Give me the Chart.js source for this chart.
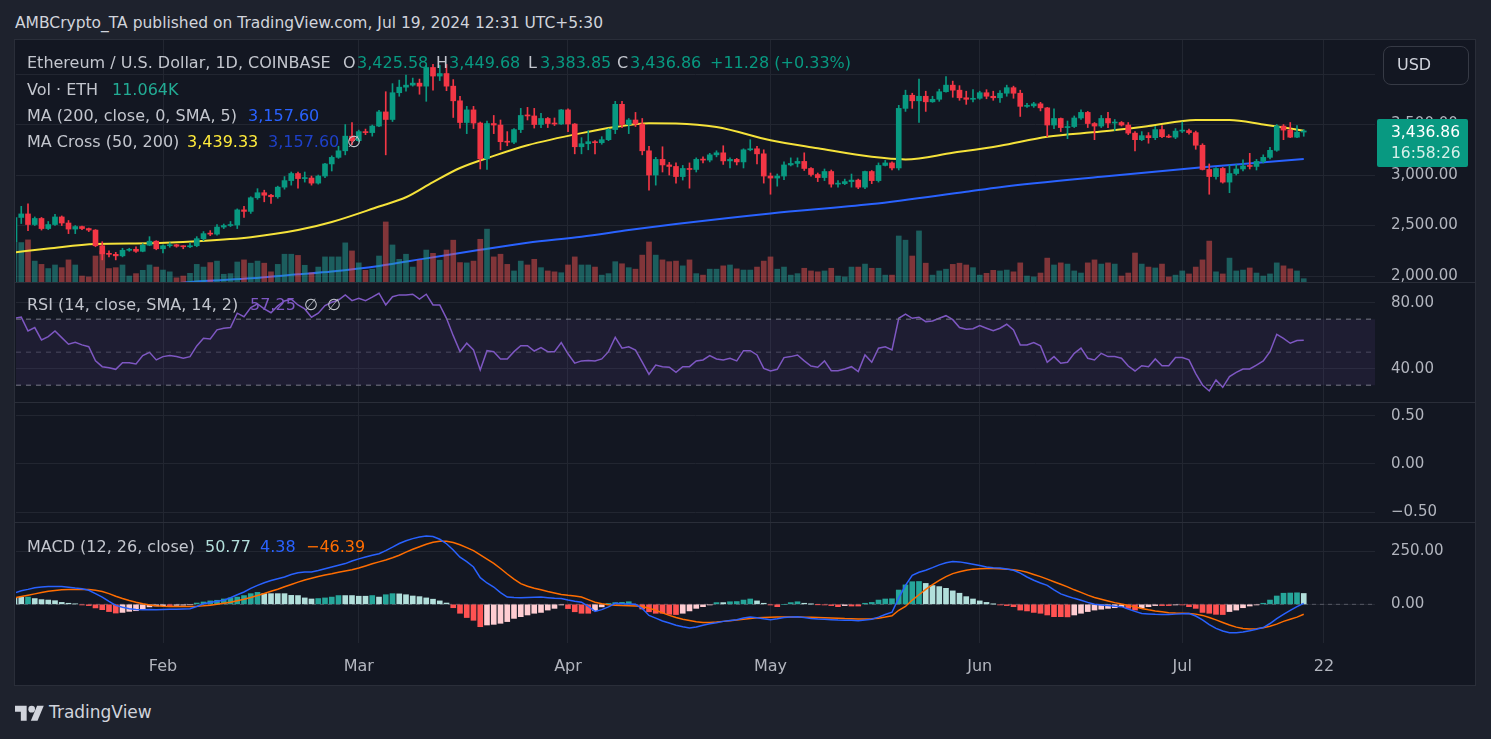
<!DOCTYPE html>
<html>
<head>
<meta charset="UTF-8">
<script src="https://cdn.jsdelivr.net/npm/chart.js@4.4.1/dist/chart.umd.min.js"></script>
<style>
  body { margin: 0; background: #1e222d; font-family: "DejaVu Sans", sans-serif; }
  #page { position: relative; width: 1491px; height: 739px; overflow: hidden; }
  #frame { position: absolute; left: 14px; top: 39px; width: 1460px; height: 645px; border: 1px solid #2a2e39; background: #131722; }
  canvas { position: absolute; left: 16px; }
  .sep { position: absolute; left: 15px; width: 1460px; height: 1px; background: #2a2e39; }
  .t { position: absolute; white-space: pre; font-size: 16px; line-height: 20px; color: #c3c6ce; }
  .g { color: #089981; }
</style>
</head>
<body>
<div id="page">
  <div class="t" style="left:15px;top:13px;font-size:15.5px;color:#d1d4dc">AMBCrypto_TA published on TradingView.com, Jul 19, 2024 12:31 UTC+5:30</div>
  <div id="frame"></div>

  <canvas id="price" width="1459" height="242" style="top:40px"></canvas>
  <div class="sep" style="top:282px"></div>
  <canvas id="rsi" width="1459" height="119" style="top:283px"></canvas>
  <div class="sep" style="top:402px"></div>
  <canvas id="blank" width="1459" height="119" style="top:403px"></canvas>
  <div class="sep" style="top:522px"></div>
  <canvas id="macd" width="1459" height="162" style="top:523px"></canvas>

  <!-- legends -->
  <div class="t" style="left:27px;top:53px">Ethereum / U.S. Dollar, 1D, COINBASE</div>
  <div class="t" style="left:343px;top:53px">O</div>
  <div class="t g" style="left:357px;top:53px">3,425.58</div>
  <div class="t" style="left:436px;top:53px">H</div>
  <div class="t g" style="left:449px;top:53px">3,449.68</div>
  <div class="t" style="left:528px;top:53px">L</div>
  <div class="t g" style="left:540px;top:53px">3,383.85</div>
  <div class="t" style="left:617px;top:53px">C</div>
  <div class="t g" style="left:630px;top:53px">3,436.86</div>
  <div class="t g" style="left:710px;top:53px">+11.28 (+0.33%)</div>

  <div class="t" style="left:27px;top:80px">Vol · ETH</div>
  <div class="t" style="left:112px;top:80px;color:#22ab94">11.064K</div>

  <div class="t" style="left:27px;top:106px">MA (200, close, 0, SMA, 5)</div>
  <div class="t" style="left:248px;top:106px;color:#2962ff">3,157.60</div>

  <div class="t" style="left:27px;top:132px">MA Cross (50, 200)</div>
  <div class="t" style="left:187px;top:132px;color:#ffeb3b">3,439.33</div>
  <div class="t" style="left:268px;top:132px;color:#1e40c8">3,157.60</div>
  <div class="t" style="left:347px;top:132px">∅</div>

  <div class="t" style="left:27px;top:295px">RSI (14, close, SMA, 14, 2)</div>
  <div class="t" style="left:250px;top:295px;color:#7e57c2">57.25</div>
  <div class="t" style="left:304px;top:295px">∅</div>
  <div class="t" style="left:327px;top:295px">∅</div>

  <div class="t" style="left:27px;top:537px">MACD (12, 26, close)</div>
  <div class="t" style="left:205px;top:537px;color:#b2dfdb">50.77</div>
  <div class="t" style="left:260px;top:537px;color:#2962ff">4.38</div>
  <div class="t" style="left:306px;top:537px;color:#ff6d00">−46.39</div>

  <!-- currency button and last price -->
  <div style="position:absolute;left:1383px;top:46px;width:84px;height:37px;border:1px solid #363a45;border-radius:8px;background:#131722"></div>
  <div class="t" style="left:1397px;top:55px;color:#d1d4dc">USD</div>
  <div style="position:absolute;left:1377px;top:119px;width:91px;height:48px;background:#089981;border-radius:2px"></div>
  <div class="t" style="left:1391px;top:122px;font-size:15.5px;color:#ffffff">3,436.86</div>
  <div class="t" style="left:1391px;top:143px;font-size:15.5px;color:#d5efe9">16:58:26</div>

  <!-- footer -->
  <svg style="position:absolute;left:15px;top:704px" width="30" height="17" viewBox="0 0 36 20">
    <path d="M14 20H7V9H0V2h14v18z" fill="#d1d4dc"/>
    <circle cx="20" cy="6" r="4" fill="#d1d4dc"/>
    <path d="M27 20h-8l7.5-18h8L27 20z" fill="#d1d4dc"/>
  </svg>
  <div class="t" style="left:49px;top:702px;font-size:17px;color:#d1d4dc">TradingView</div>
</div>

<script>
// daily candles, Jan 10 2024 (index 0) .. Jul 19 2024 (index 191)
const opens = [
  2340, 2580, 2615, 2510, 2570, 2470, 2510, 2585, 2525, 2465,
  2490, 2470, 2455, 2300, 2220, 2215, 2200, 2255, 2265, 2245,
  2305, 2345, 2270, 2300, 2310, 2295, 2290, 2300, 2370, 2420,
  2415, 2485, 2500, 2505, 2655, 2640, 2775, 2825, 2800, 2785,
  2880, 2945, 3015, 2965, 2970, 2920, 2990, 3110, 3175, 3240,
  3385, 3340, 3430, 3420, 3485, 3625, 3550, 3815, 3870, 3890,
  3910, 3880, 4065, 3980, 4005, 3880, 3735, 3520, 3645, 3515,
  3160, 3510, 3495, 3330, 3325, 3450, 3590, 3585, 3500, 3560,
  3510, 3505, 3645, 3505, 3280, 3310, 3330, 3320, 3350, 3450,
  3700, 3500, 3545, 3505, 3240, 3000, 3155, 3100, 3085, 2985,
  3065, 3055, 3155, 3148, 3200, 3220, 3140, 3155, 3130, 3250,
  3260, 3210, 2990, 2970, 2990, 3100, 3115, 3135, 3065, 3005,
  2975, 3035, 2910, 2915, 2935, 2950, 2880, 3035, 2945, 3095,
  3120, 3070, 3660, 3790, 3735, 3780, 3725, 3750, 3825, 3890,
  3840, 3765, 3750, 3760, 3815, 3780, 3765, 3810, 3865, 3810,
  3680, 3685, 3705, 3665, 3495, 3560, 3470, 3480, 3565, 3620,
  3510, 3485, 3560, 3515, 3520, 3495, 3415, 3350, 3390, 3370,
  3450, 3380, 3375, 3435, 3440, 3420, 3295, 3055, 2985, 3065,
  2930, 3015, 3060, 3090, 3085, 3135, 3175, 3245, 3485, 3445,
  3375, 3425.58
];
const highs = [
  2680, 2690, 2715, 2585, 2580, 2540, 2610, 2595, 2550, 2500,
  2495, 2475, 2460, 2340, 2250, 2235, 2275, 2275, 2290, 2320,
  2390, 2350, 2310, 2330, 2315, 2300, 2330, 2390, 2440, 2450,
  2510, 2515, 2540, 2665, 2690, 2785, 2865, 2850, 2810, 2890,
  2985, 3030, 3030, 3030, 2990, 3000, 3115, 3190, 3285, 3500,
  3520, 3445, 3455, 3495, 3640, 3825, 3905, 3940, 3990, 3960,
  3950, 4085, 4095, 4085, 4095, 3945, 3780, 3680, 3680, 3525,
  3535, 3590, 3545, 3430, 3460, 3660, 3670, 3660, 3610, 3570,
  3565, 3650, 3655, 3510, 3370, 3440, 3340, 3380, 3460, 3730,
  3730, 3560, 3620, 3560, 3285, 3175, 3280, 3125, 3120, 3095,
  3120, 3170, 3180, 3215, 3240, 3290, 3170, 3165, 3260, 3350,
  3285, 3250, 3020, 3010, 3130, 3170, 3170, 3220, 3075, 3020,
  3060, 3050, 2945, 2960, 3010, 2960, 3040, 3045, 3120, 3145,
  3130, 3690, 3840, 3810, 3950, 3830, 3780, 3850, 3975, 3930,
  3885, 3830, 3845, 3830, 3845, 3830, 3835, 3890, 3880, 3840,
  3710, 3720, 3720, 3670, 3655, 3565, 3535, 3585, 3645, 3630,
  3520, 3590, 3620, 3550, 3530, 3520, 3430, 3430, 3420, 3480,
  3490, 3400, 3460, 3525, 3455, 3435, 3310, 3110, 3075, 3075,
  3100, 3105, 3150, 3215, 3155, 3200, 3275, 3500, 3500, 3520,
  3490, 3449.68
];
const lows = [
  2330, 2520, 2450, 2500, 2455, 2460, 2500, 2500, 2420, 2420,
  2460, 2440, 2290, 2160, 2190, 2160, 2190, 2245, 2235, 2240,
  2300, 2260, 2230, 2285, 2285, 2270, 2280, 2290, 2350, 2400,
  2405, 2470, 2490, 2470, 2580, 2620, 2760, 2735, 2720, 2770,
  2860, 2900, 2870, 2930, 2900, 2910, 2975, 3040, 3165, 3200,
  3300, 3330, 3400, 3385, 3480, 3200, 3530, 3780, 3830, 3880,
  3800, 3730, 3840, 3935, 3835, 3570, 3465, 3410, 3460, 3060,
  3055, 3410, 3250, 3290, 3310, 3420, 3545, 3465, 3470, 3470,
  3490, 3500, 3430, 3210, 3210, 3250, 3210, 3305, 3340, 3410,
  3470, 3410, 3480, 3200, 2850, 2900, 3030, 3000, 2920, 2950,
  2870, 3030, 3120, 3130, 3180, 3105, 3070, 3100, 3070, 3240,
  3110, 2920, 2810, 2890, 2955, 3090, 3080, 3045, 2990, 2935,
  2945, 2880, 2880, 2905, 2880, 2865, 2865, 2915, 2930, 3090,
  3050, 3050, 3630, 3660, 3520, 3630, 3720, 3730, 3820, 3770,
  3740, 3700, 3725, 3750, 3755, 3740, 3720, 3780, 3760, 3580,
  3670, 3670, 3635, 3380, 3460, 3430, 3360, 3470, 3550, 3470,
  3350, 3470, 3470, 3440, 3485, 3400, 3240, 3340, 3315, 3350,
  3370, 3370, 3360, 3420, 3405, 3255, 3050, 2810, 2960, 2920,
  2825, 3000, 3040, 3060, 3050, 3120, 3160, 3235, 3350, 3370,
  3370, 3383.85
];
const closes = [
  2580, 2615, 2510, 2570, 2470, 2510, 2585, 2525, 2465, 2490,
  2470, 2455, 2300, 2220, 2215, 2200, 2255, 2265, 2245, 2305,
  2345, 2270, 2300, 2310, 2295, 2290, 2300, 2370, 2420, 2415,
  2485, 2500, 2505, 2655, 2640, 2775, 2825, 2800, 2785, 2880,
  2945, 3015, 2965, 2970, 2920, 2990, 3110, 3175, 3240, 3385,
  3340, 3430, 3420, 3485, 3625, 3550, 3815, 3870, 3890, 3910,
  3880, 4065, 3980, 4005, 3880, 3735, 3520, 3645, 3515, 3160,
  3510, 3495, 3330, 3325, 3450, 3590, 3585, 3500, 3560, 3510,
  3505, 3645, 3505, 3280, 3310, 3330, 3320, 3350, 3450, 3700,
  3500, 3545, 3505, 3240, 3000, 3155, 3100, 3085, 2985, 3065,
  3055, 3155, 3148, 3200, 3220, 3140, 3155, 3130, 3250, 3260,
  3210, 2990, 2970, 2990, 3100, 3115, 3135, 3065, 3005, 2975,
  3035, 2910, 2915, 2935, 2950, 2880, 3035, 2945, 3095, 3120,
  3070, 3660, 3790, 3735, 3780, 3725, 3750, 3825, 3890, 3840,
  3765, 3750, 3760, 3815, 3780, 3765, 3810, 3865, 3810, 3680,
  3685, 3705, 3665, 3495, 3560, 3470, 3480, 3565, 3620, 3510,
  3485, 3560, 3515, 3520, 3495, 3415, 3350, 3390, 3370, 3450,
  3380, 3375, 3435, 3440, 3420, 3295, 3055, 2985, 3065, 2930,
  3015, 3060, 3090, 3085, 3135, 3175, 3245, 3485, 3445, 3375,
  3425, 3436.86
];
// volume, thousand ETH
const volumes = [
  134, 132, 141, 70, 59, 45, 57, 48, 74, 57,
  20, 17, 87, 104, 45, 48, 57, 20, 28, 39,
  57, 50, 40, 34, 14, 20, 29, 59, 50, 65,
  70, 26, 28, 67, 74, 63, 70, 63, 34, 59,
  93, 93, 89, 56, 31, 50, 84, 84, 84, 131,
  104, 64, 39, 43, 87, 201, 124, 76, 93, 50,
  73, 107, 96, 73, 107, 140, 65, 64, 70, 143,
  177, 84, 93, 59, 37, 70, 57, 76, 48, 37,
  34, 31, 57, 84, 57, 57, 50, 23, 28, 68,
  61, 48, 43, 90, 134, 90, 74, 68, 70, 54,
  74, 28, 23, 43, 43, 54, 57, 44, 40, 40,
  50, 70, 84, 43, 50, 23, 28, 46, 37, 34,
  37, 46, 20, 17, 50, 50, 60, 46, 46, 23,
  23, 154, 140, 87, 171, 63, 23, 37, 43, 59,
  63, 57, 48, 23, 29, 39, 37, 40, 34, 64,
  20, 17, 30, 80, 57, 64, 60, 37, 30, 64,
  74, 60, 64, 60, 20, 30, 97, 60, 50, 47,
  60, 17, 23, 37, 27, 50, 74, 137, 34, 27,
  80, 37, 40, 47, 30, 20, 27, 64, 54, 44,
  37, 11.064
];
// moving averages, read at sample days
const ma50Idx = [0, 5, 12, 20, 27, 35, 42, 47, 54, 58, 62, 66, 71, 76, 84, 89, 94, 98, 104, 112, 119, 127, 132, 139, 146, 153, 161, 168, 175, 180, 185, 191];
const ma50 = [2235, 2272, 2318, 2325, 2345, 2385, 2455, 2535, 2688, 2780, 2930, 3070, 3190, 3295, 3415, 3475, 3512, 3510, 3475, 3345, 3265, 3180, 3155, 3220, 3290, 3380, 3430, 3485, 3545, 3545, 3500, 3439.33];
const ma200Idx = [20, 28, 35, 42, 47, 54, 61, 69, 76, 84, 91, 98, 112, 127, 141, 146, 161, 176, 191];
const ma200 = [1905, 1950, 1978, 2017, 2045, 2100, 2175, 2260, 2330, 2390, 2455, 2515, 2620, 2713, 2835, 2880, 2983, 3076, 3157.6];

const rsi = [
  70.5, 71.2, 62.8, 64.9, 57.4, 59.4, 62.8, 58.8, 54.8, 56,
  54.4, 53.3, 44.7, 41.2, 40.6, 39.6, 43.6, 43.6, 42.8, 47.9,
  49.9, 45.3, 47.3, 47.9, 47.3, 46.3, 47.3, 53.8, 58.4, 58,
  63.5, 64.5, 64.9, 73.6, 71.5, 77, 79.2, 76.2, 73.9, 78,
  81, 82.1, 78.6, 76.2, 71.2, 73.6, 78.2, 80.2, 81.6, 84.7,
  81.2, 82.7, 81.2, 83.3, 85.7, 78.6, 83.6, 84.7, 84.7, 85.1,
  82.2, 85.1, 78.6, 78.6, 70.5, 60, 50.3, 55.4, 51.3, 39.2,
  50.9, 50.3, 45.9, 45.9, 50.3, 53.9, 53.9, 50.7, 52.7, 50.3,
  50.3, 55.8, 49, 43.3, 44.7, 45, 44.7, 45.9, 50.3, 59,
  52.4, 53.3, 51.3, 44, 36.6, 42.2, 41.2, 40.9, 37.8, 41.2,
  41.2, 44.7, 45.3, 47.9, 45.9, 45.3, 46.3, 44.7, 50.9, 50.9,
  48.3, 40.2, 38.6, 39.6, 46.7, 47.3, 48.3, 44.7, 41.6, 40.9,
  44.7, 38.8, 38.8, 39.8, 41.2, 38.2, 48.3, 43.9, 52.4, 53.3,
  51.3, 70.5, 73, 70.5, 71.2, 68.5, 68.9, 70.5, 72.1, 69.7,
  64.9, 63.9, 64.2, 66.1, 64.5, 63, 64.5, 66.9, 63.5, 54.4,
  54.4, 55.8, 53.8, 43.9, 47.3, 43.3, 43.9, 49.3, 52.4, 46.3,
  45.3, 49.3, 47.3, 47.3, 46.3, 41.6, 38.6, 41.8, 41.2, 45.9,
  41.8, 41.8, 46.7, 46.7, 45.3, 37, 30.1, 26.5, 33.2, 28.7,
  35.2, 37.8, 39.8, 39.8, 42.2, 44.7, 50.3, 60.8, 58.4, 55.4,
  57, 57.25
];
const rsiLevels = [70, 50, 30];

const macdLine = [
  53, 64, 70, 78, 81, 83, 84, 84, 80, 76,
  73, 66, 50, 34, 14, -5, -14, -21, -24, -25,
  -24, -25, -24, -23, -23, -22, -21, -10, 3, 9,
  14, 19, 31, 45, 58, 75, 89, 101, 112, 120,
  128, 140, 148, 152, 152, 159, 167, 175, 183, 191,
  203, 213, 222, 230, 237, 252, 268, 285, 298, 308,
  316, 320, 318, 305, 284, 255, 221, 200, 175, 125,
  100, 81, 55, 34, 32, 31, 32, 33, 34, 31,
  28, 27, 20, 14, 10, -10, -33, -25, -12, 5,
  3, 2, 0, -20, -52, -65, -78, -88, -98, -105,
  -111, -106, -98, -91, -86, -80, -76, -72, -64, -60,
  -63, -68, -72, -68, -62, -59, -58, -62, -66, -69,
  -70, -72, -74, -75, -75, -77, -74, -70, -60, -48,
  -37, 30, 89, 136, 150, 160, 172, 185, 195, 201,
  199, 194, 188, 182, 175, 172, 170, 166, 160, 146,
  128, 113, 100, 89, 68, 49, 38, 28, 19, 9,
  0, -3, -6, -9, -11, -22, -33, -43, -45, -47,
  -48, -48, -46, -44, -43, -55, -73, -95, -113, -125,
  -133, -133, -130, -124, -117, -109, -90, -67, -47, -28,
  -11, 4.38
];
const signalLine = [
  31, 37, 43, 49, 55, 61, 65, 68, 69, 70,
  70, 69, 66, 60, 50, 38, 27, 18, 10, 3,
  -3, -7, -9, -10, -10, -10, -10, -9, -7, -4,
  0, 5, 10, 17, 24, 32, 41, 51, 61, 71,
  82, 93, 104, 114, 122, 130, 137, 143, 150, 156,
  162, 170, 180, 190, 199, 208, 218, 230, 245, 258,
  270, 282, 291, 296, 296, 290, 279, 266, 252, 232,
  212, 192, 168, 142, 118, 97, 85, 75, 68, 60,
  53, 46, 42, 39, 34, 22, 10, 3, -2, -4,
  -6, -7, -8, -10, -18, -28, -40, -52, -62, -70,
  -76, -82, -85, -85, -83, -80, -77, -74, -70, -66,
  -63, -62, -61, -60, -60, -60, -60, -61, -61, -62,
  -63, -64, -65, -67, -68, -69, -69, -68, -65, -60,
  -54, -28, -10, 20, 45, 70, 92, 112, 130, 144,
  153, 160, 165, 167, 168, 168, 167, 165, 162, 158,
  150, 140, 130, 118, 106, 94, 82, 68, 56, 43,
  32, 24, 16, 8, 1, -5, -12, -20, -26, -31,
  -35, -39, -41, -42, -43, -46, -52, -62, -73, -85,
  -97, -107, -113, -116, -114, -110, -103, -93, -80, -70,
  -60, -46.39
];
const macdHist = [
  33, 33, 34, 27, 22, 20, 17, 9, 5, 2,
  -3, -6, -17, -25, -34, -41, -38, -33, -30, -22,
  -12, -8, -6, -6, -5, -4, -2, 6, 11, 16,
  19, 25, 30, 34, 41, 50, 56, 50, 50, 50,
  50, 42, 41, 30, 25, 27, 30, 34, 41, 41,
  41, 38, 38, 41, 34, 45, 50, 49, 45, 39,
  36, 30, 24, 16, 6, -16, -42, -62, -75, -105,
  -97, -94, -89, -81, -66, -58, -50, -42, -38, -27,
  -19, -3, -20, -35, -42, -42, -30, -12, 4, 8,
  9, 12, -3, -22, -35, -42, -42, -47, -48, -42,
  -31, -19, -11, -3, 8, 8, 12, 13, 20, 25,
  16, 5, -3, -11, 0, 8, 12, 5, 1, -1,
  -3, -6, -11, -6, -8, -8, 5, 9, 20, 25,
  26, 67, 91, 106, 107, 98, 88, 83, 75, 63,
  52, 36, 25, 16, 9, 1, -3, -6, -11, -27,
  -31, -38, -42, -50, -58, -58, -59, -50, -42, -34,
  -27, -23, -19, -16, -11, -19, -27, -16, -11, -6,
  -6, -6, -3, -3, -11, -19, -38, -42, -47, -48,
  -34, -27, -16, -8, -3, 5, 20, 39, 52, 53,
  54, 50.77
];

// month ticks on the shared day axis
const tickIdx = [22, 51, 82, 112, 143, 173, 194];
const tickText = ['Feb', 'Mar', 'Apr', 'May', 'Jun', 'Jul', '22'];

// ---------------------------------------------------------------
Chart.defaults.font.family = 'DejaVu Sans';
const xMin = 0.222, xMax = 201.556;
const gridColor = '#222631';
const upColor = '#089981', downColor = '#f23645';

function xAxis(showLabels) {
  return {
    type: 'linear', min: xMin, max: xMax, offset: false,
    afterBuildTicks: s => { s.ticks = tickIdx.map(v => ({ value: v })); },
    ticks: {
      display: showLabels, autoSkip: false, maxRotation: 0, padding: 14,
      color: '#b2b5be', font: { size: 16 },
      callback: (v, i) => tickText[i]
    },
    grid: { color: gridColor, drawTicks: false, offset: false },
    border: { display: false },
    afterFit: s => { s.height = showLabels ? 42 : 0; s.paddingLeft = 0; s.paddingRight = 0; }
  };
}
// y ticks: every multiple of step inside the panel
function yAxis(min, max, step, fmt) {
  return {
    position: 'right', min: min, max: max,
    afterBuildTicks: s => {
      const t = [];
      for (let k = Math.ceil(min / step); k * step <= max; k++) t.push({ value: k * step + 0 });
      s.ticks = t;
    },
    ticks: { padding: 16, color: '#b2b5be', font: { size: 15 }, callback: fmt },
    grid: { color: gridColor, drawTicks: false },
    border: { display: false },
    afterFit: s => { s.width = 100; s.paddingTop = 0; s.paddingBottom = 0; }
  };
}
const base = {
  responsive: false, animation: false, events: [],
  layout: { padding: 0 },
  plugins: { legend: { display: false }, tooltip: { enabled: false } }
};
const fmt2 = v => {
  const s = Math.abs(v).toLocaleString('en-US', { minimumFractionDigits: 2, maximumFractionDigits: 2 });
  return v < -1e-9 ? '\u2212' + s : s;
};
const pts = (xs, ys) => xs.map((x, k) => ({ x: x, y: ys[k] }));
const isUp = i => closes[i] >= opens[i];

// price panel
new Chart(document.getElementById('price'), {
  type: 'bar',
  data: {
    datasets: [
      { type: 'line', data: pts(ma200Idx, ma200), borderColor: '#2962ff', borderWidth: 2, pointRadius: 0, cubicInterpolationMode: 'monotone', order: 5 },
      { yAxisID: 'vol', data: volumes.map((v, i) => ({ x: i, y: v })),
        backgroundColor: volumes.map((v, i) => isUp(i) ? 'rgba(38,166,154,0.5)' : 'rgba(239,83,80,0.5)'),
        barThickness: 5, grouped: false, order: 4 },
      { type: 'line', data: pts(ma50Idx, ma50), borderColor: '#f5e23a', borderWidth: 2, pointRadius: 0, cubicInterpolationMode: 'monotone', order: 3 },
      { data: closes.map((c, i) => ({ x: i, y: [lows[i], highs[i]] })),
        backgroundColor: closes.map((c, i) => isUp(i) ? upColor : downColor),
        barThickness: 1, grouped: false, order: 2 },
      { data: closes.map((c, i) => ({ x: i, y: [opens[i], c] })),
        backgroundColor: closes.map((c, i) => isUp(i) ? upColor : downColor),
        barThickness: 5, minBarLength: 1, grouped: false, order: 1 }
    ]
  },
  options: Object.assign({}, base, {
    scales: {
      x: xAxis(false),
      y: yAxis(1941, 4337, 500, fmt2),
      vol: { axis: 'y', position: 'left', display: false, min: 0, max: 810 }
    }
  })
});

// RSI panel
const level = v => [{ x: xMin, y: v }, { x: xMax, y: v }];
new Chart(document.getElementById('rsi'), {
  type: 'line',
  data: {
    datasets: [
      { data: level(rsiLevels[0]), borderColor: '#787b86', borderWidth: 1, borderDash: [5, 5], pointRadius: 0,
        fill: { value: rsiLevels[2] }, backgroundColor: 'rgba(126,87,194,0.1)' },
      { data: level(rsiLevels[1]), borderColor: 'rgba(120,123,134,0.5)', borderWidth: 1, borderDash: [5, 5], pointRadius: 0 },
      { data: level(rsiLevels[2]), borderColor: '#787b86', borderWidth: 1, borderDash: [5, 5], pointRadius: 0 },
      { data: rsi.map((v, i) => ({ x: i, y: v })), borderColor: '#7e57c2', borderWidth: 1.5, pointRadius: 0 }
    ]
  },
  options: Object.assign({}, base, {
    scales: { x: xAxis(false), y: yAxis(19.8, 91.9, 40, fmt2) }
  })
});

// empty panel
new Chart(document.getElementById('blank'), {
  type: 'line',
  data: { datasets: [] },
  options: Object.assign({}, base, {
    scales: { x: xAxis(false), y: yAxis(-0.6, 0.631, 0.5, fmt2) }
  })
});

// MACD panel
const histColors = macdHist.map((h, i) => {
  const prev = i > 0 ? macdHist[i - 1] : h;
  if (h >= 0) return prev < h ? '#26a69a' : '#b2dfdb';
  return prev < h ? '#ffcdd2' : '#ff5252';
});
new Chart(document.getElementById('macd'), {
  type: 'bar',
  data: {
    datasets: [
      { type: 'line', data: level(0), borderColor: 'rgba(120,123,134,0.6)', borderWidth: 1, borderDash: [4, 4], pointRadius: 0, order: 4 },
      { data: macdHist.map((v, i) => ({ x: i, y: v })), backgroundColor: histColors, barThickness: 5, grouped: false, order: 3 },
      { type: 'line', data: signalLine.map((v, i) => ({ x: i, y: v })), borderColor: '#ff6d00', borderWidth: 1.5, pointRadius: 0, order: 2 },
      { type: 'line', data: macdLine.map((v, i) => ({ x: i, y: v })), borderColor: '#2962ff', borderWidth: 1.5, pointRadius: 0, order: 1 }
    ]
  },
  options: Object.assign({}, base, {
    scales: { x: xAxis(true), y: yAxis(-181.4, 381.3, 250, fmt2) }
  })
});
</script>
</body>
</html>
